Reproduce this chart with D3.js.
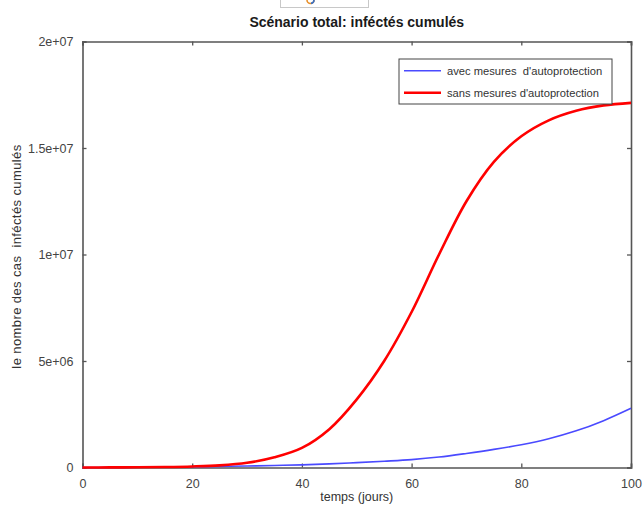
<!DOCTYPE html>
<html>
<head>
<meta charset="utf-8">
<script src="https://cdn.jsdelivr.net/npm/d3@7"></script>
<style>
  body { margin: 0; background: #fff; }
  svg { display: block; font-family: "Liberation Sans", Arial, sans-serif; }
</style>
</head>
<body>
<div id="chart"></div>
<script>
// days sampled every 5 days
const days = [0, 5, 10, 15, 20, 25, 30, 35, 40, 45, 50, 55, 60, 65, 70, 75, 80, 85, 90, 95, 100];
// cumulative infected, with self-protection measures (blue)
const avecValues = [0, 5e3, 12e3, 20e3, 35e3, 50e3, 70e3, 95e3, 125e3, 170e3, 230e3, 295e3, 370e3, 490e3, 660e3, 850e3, 1.07e6, 1.35e6, 1.72e6, 2.2e6, 2.78e6];
// cumulative infected, without self-protection measures (red)
const sansValues = [0, 5e3, 12e3, 25e3, 50e3, 100e3, 220e3, 480e3, 920e3, 1.8e6, 3.2e6, 5.0e6, 7.3e6, 10.0e6, 12.5e6, 14.35e6, 15.55e6, 16.3e6, 16.75e6, 17.0e6, 17.12e6];
const xTicks = [0, 20, 40, 60, 80, 100];
const yTicks = [0, 5e6, 1e7, 1.5e7, 2e7];
const yTickLabels = ["0", "5e+06", "1e+07", "1.5e+07", "2e+07"];
const seriesNames = ["avec mesures  d'autoprotection", "sans mesures d'autoprotection"];

const W = 643, H = 506;
const margin = {top: 41.5, right: 12, bottom: 38.5, left: 82.5};
const width = W - margin.left - margin.right,
      height = H - margin.top - margin.bottom;

const svg = d3.select("#chart").append("svg")
    .attr("width", W)
    .attr("height", H);

// little cropped window tab at the very top
svg.append("rect")
  .attr("x", 280.5).attr("y", -2).attr("width", 88).attr("height", 9.5)
  .attr("fill", "#fff").attr("stroke", "#c8c8c8");
svg.append("path")
  .attr("d", "M307,0 A3.5,3.5 0 0 0 314,0")
  .attr("fill", "none").attr("stroke", "#e8902a").attr("stroke-width", 1.6);
svg.append("path")
  .attr("d", "M311,3.4 A3.5,3.5 0 0 0 314,0")
  .attr("fill", "none").attr("stroke", "#3a6fc0").attr("stroke-width", 1.6);

const g = svg.append("g")
    .attr("transform", `translate(${margin.left},${margin.top})`);

const x = d3.scaleLinear().domain([0, 100]).range([0, width]);
const y = d3.scaleLinear().domain([0, 2e7]).range([height, 0]);

// title
svg.append("text")
  .attr("x", margin.left + width / 2)
  .attr("y", 27)
  .attr("text-anchor", "middle")
  .attr("font-size", "14px")
  .attr("font-weight", "bold")
  .attr("fill", "#1a1a1a")
  .text("Scénario total: inféctés cumulés");

// axes (ticks drawn inward, like octave)
const axisColor = "#555";
const xAxis = g.append("g")
  .attr("transform", `translate(0,${height})`)
  .call(d3.axisBottom(x).tickValues(xTicks).tickSize(-4).tickPadding(12).tickFormat(d3.format("d")));
const yAxis = g.append("g")
  .call(d3.axisLeft(y).tickValues(yTicks).tickSize(-4).tickPadding(9).tickFormat((d, i) => yTickLabels[i]));
const xTop = g.append("g")
  .call(d3.axisTop(x).tickValues(xTicks).tickSize(-4).tickFormat(""));
const yRight = g.append("g")
  .attr("transform", `translate(${width},0)`)
  .call(d3.axisRight(y).tickValues(yTicks).tickSize(-4).tickFormat(""));

[xAxis, yAxis, xTop, yRight].forEach(a => {
  a.select(".domain").attr("stroke", axisColor).attr("stroke-width", 1.6);
  a.selectAll(".tick line").attr("stroke", axisColor).attr("stroke-width", 1.3);
  a.selectAll(".tick text").attr("fill", "#444").attr("font-size", "12.5px");
});

// lines
const line = (vals) => d3.line()
  .x((d, i) => x(days[i]))
  .y(d => y(d))
  .curve(d3.curveCatmullRom.alpha(0.5))(vals);

g.append("path")
  .attr("d", line(avecValues))
  .attr("fill", "none")
  .attr("stroke", "#4a4aff")
  .attr("stroke-width", 1.6);

g.append("path")
  .attr("d", line(sansValues))
  .attr("fill", "none")
  .attr("stroke", "#ff0000")
  .attr("stroke-width", 2.6);

// axis labels
svg.append("text")
  .attr("x", margin.left + width / 2)
  .attr("y", 501)
  .attr("text-anchor", "middle")
  .attr("font-size", "12.5px")
  .attr("fill", "#333")
  .text("temps (jours)");

svg.append("text")
  .attr("transform", `translate(21,${margin.top + height / 2 + 2}) rotate(-90)`)
  .attr("text-anchor", "middle")
  .attr("font-size", "13px")
  .attr("letter-spacing", "0.4px")
  .attr("fill", "#333")
  .style("white-space", "pre")
  .text("le nombre des cas  inféctés cumulés");

// legend
const legend = svg.append("g").attr("transform", "translate(399,59)");
legend.append("rect")
  .attr("width", 213).attr("height", 45)
  .attr("fill", "#fff").attr("stroke", "#444").attr("stroke-width", 1);
const legendColors = ["#4a4aff", "#ff0000"];
const legendWidths = [1.6, 2.6];
seriesNames.forEach((name, i) => {
  const ly = 11.7 + i * 22;
  legend.append("line")
    .attr("x1", 5).attr("x2", 42).attr("y1", ly).attr("y2", ly)
    .attr("stroke", legendColors[i]).attr("stroke-width", legendWidths[i]);
  legend.append("text")
    .attr("x", 48).attr("y", ly + 4)
    .attr("font-size", "11.2px")
    .attr("fill", "#333")
    .style("white-space", "pre")
    .text(name);
});
</script>
</body>
</html>
